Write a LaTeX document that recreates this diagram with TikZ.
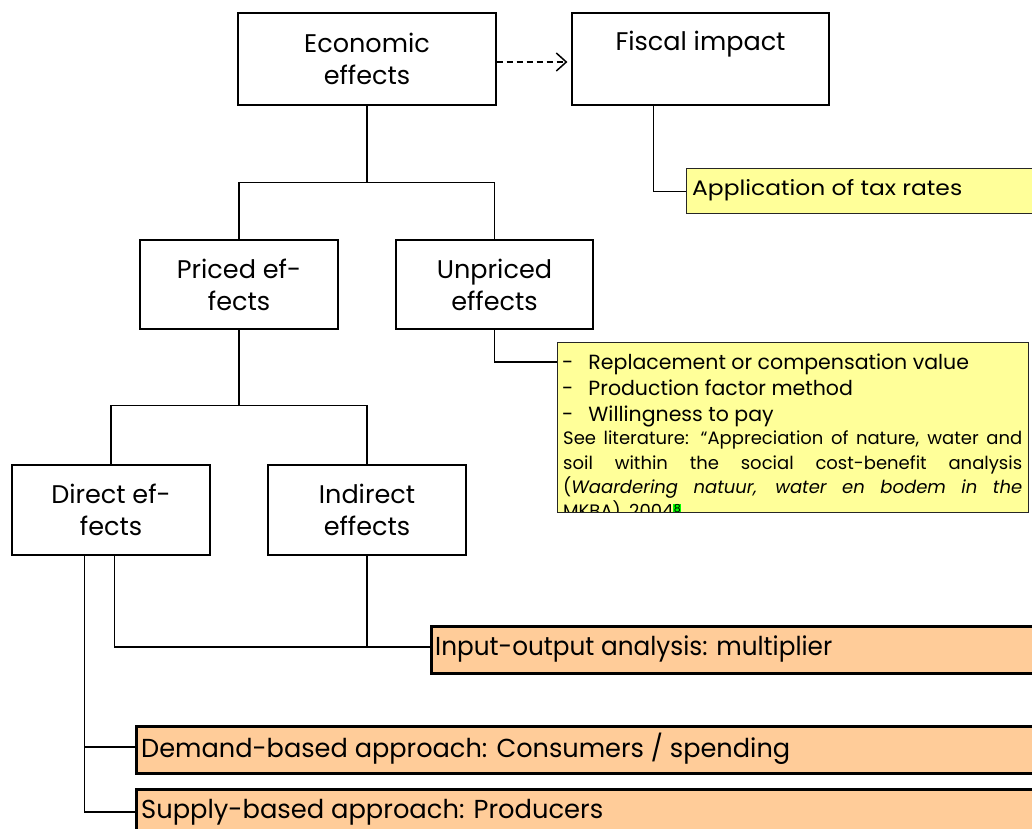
\documentclass[tikz,border=0pt]{standalone}
\usepackage{fontspec}
\setmainfont{Poppins}
\usetikzlibrary{arrows.meta,calc}
\definecolor{yel}{HTML}{FFFF99}
\definecolor{ora}{HTML}{FFCC99}
\definecolor{hl}{HTML}{00FF00}
\newcommand{\fitw}[2]{\resizebox{#1}{\height}{#2}}
\begin{document}
\begin{tikzpicture}[x=1pt,y=-1pt,
  box/.style={draw, line width=1.2pt, fill=white, align=center, inner sep=0pt,
    font=\fontsize{25.5}{32}\selectfont},
  lbl/.style={inner sep=0pt, font=\fontsize{25.5}{32}\selectfont},
  conn/.style={line width=1.2pt},
  ybox/.style={draw=black!85, line width=1.2pt, fill=yel, inner sep=0pt},
  obox/.style={draw, line width=3pt, fill=ora, inner sep=0pt},
  otxt/.style={inner sep=0pt, anchor=west, font=\fontsize{26}{30}\selectfont},
]
\useasboundingbox (0,0) rectangle (1032,828);
\clip (0,0) rectangle (1032,828);

% main boxes
\node[box, minimum width=258pt, minimum height=92pt] (econ) at (367,59) {Economic\\effects};
\node[box, minimum width=257pt, minimum height=92pt] (fiscal) at (700.5,59) {};
\node[lbl] (fiscalt) at (700.5,44) {Fiscal impact};
\node[box, minimum width=198pt, minimum height=89pt] (priced) at (239,284.5) {Priced ef-\\fects};
\node[box, minimum width=197pt, minimum height=89pt] (unpriced) at (494.5,284.5) {Unpriced\\effects};
\node[box, minimum width=198pt, minimum height=90pt] (direct) at (111,510) {Direct ef-\\fects};
\node[box, minimum width=198pt, minimum height=90pt] (indirect) at (367,510) {Indirect\\effects};

% yellow boxes
\node[ybox, anchor=north west, minimum width=420pt, minimum height=45pt] (app) at (686,168) {};
\node[inner sep=0pt, anchor=west, font=\fontsize{21}{24}\selectfont] (appt) at (692,190) {\fitw{270pt}{Application of tax rates}};

\node[ybox, anchor=north west, minimum width=471pt, minimum height=170pt] (note) at (557,342) {};
\begin{scope}
\clip (557,342) rectangle (1028,511);
\node[inner sep=0pt, anchor=north west, align=left, font=\fontsize{20.5}{26}\selectfont] (bul) at (562,354)
 {-\hspace{15pt}Replacement or compensation value\\
  -\hspace{15pt}Production factor method\\
  -\hspace{15pt}Willingness to pay};
\node[inner sep=0pt, anchor=north west, align=left, font=\fontsize{18}{24.3}\selectfont] (lit) at (563,431)
 {\makebox[459pt][s]{See literature: “Appreciation of nature, water and}\\
  \makebox[459pt][s]{soil within the social cost-benefit analysis}\\
  \makebox[459pt][s]{(\textit{Waardering natuur, water en bodem in the}}\\
  MKBA), 2004{\setlength{\fboxsep}{0.5pt}\raisebox{5pt}{\colorbox{hl}{\fontsize{11}{11}\selectfont 8}}}};
\end{scope}

% orange boxes
\node[obox, anchor=north west, minimum width=700pt, minimum height=47pt] (io) at (430,625) {};
\node[otxt] (iot) at (435,649) {\fitw{397pt}{Input-output analysis: multiplier}};
\node[obox, anchor=north west, minimum width=1000pt, minimum height=47pt] (demand) at (135,725) {};
\node[otxt] (demandt) at (141,749) {\fitw{649pt}{Demand-based approach: Consumers / spending}};
\node[obox, anchor=north west, minimum width=1000pt, minimum height=47pt] (supply) at (135,788) {};
\node[otxt] (supplyt) at (141,812) {\fitw{462pt}{Supply-based approach: Producers}};

% connectors
\draw[conn, line width=1.5pt, dashed, dash pattern=on 6pt off 4pt, -{Straight Barb[length=10pt,width=18pt,line width=1.5pt]}]
  ($(econ.east)+(0,3)$) -- ($(fiscal.west)+(-4,3)$);
\coordinate (j1) at ($(econ.south)+(0,77)$);
\draw[conn] (econ.south) -- (j1);
\draw[conn] (priced.north) |- (j1) -| (unpriced.north);
\draw[conn] ($(fiscal.south west)+(82,0)$) |- (app.west);
\draw[conn] (unpriced.south) |- ($(note.north west)+(0,20)$);
\coordinate (j2) at ($(priced.south)+(0,76)$);
\draw[conn] (priced.south) -- (j2);
\draw[conn] (direct.north) |- (j2) -| (indirect.north);
\draw[conn, line width=1.6pt] ($(direct.south west)+(103,0)$) |- ($(io.west)+(0,-3)$);
\draw[conn] (indirect.south) -- (indirect.south |- {$(io.west)+(0,-3)$});
\draw[conn, line width=1.6pt] ($(direct.south west)+(73,0)$) |- ($(supply.west)+(0,-1)$);
\draw[conn, line width=1.6pt] ($(direct.south west)+(73,0)$) |- ($(demand.west)+(0,-3)$);
\end{tikzpicture}
\end{document}
